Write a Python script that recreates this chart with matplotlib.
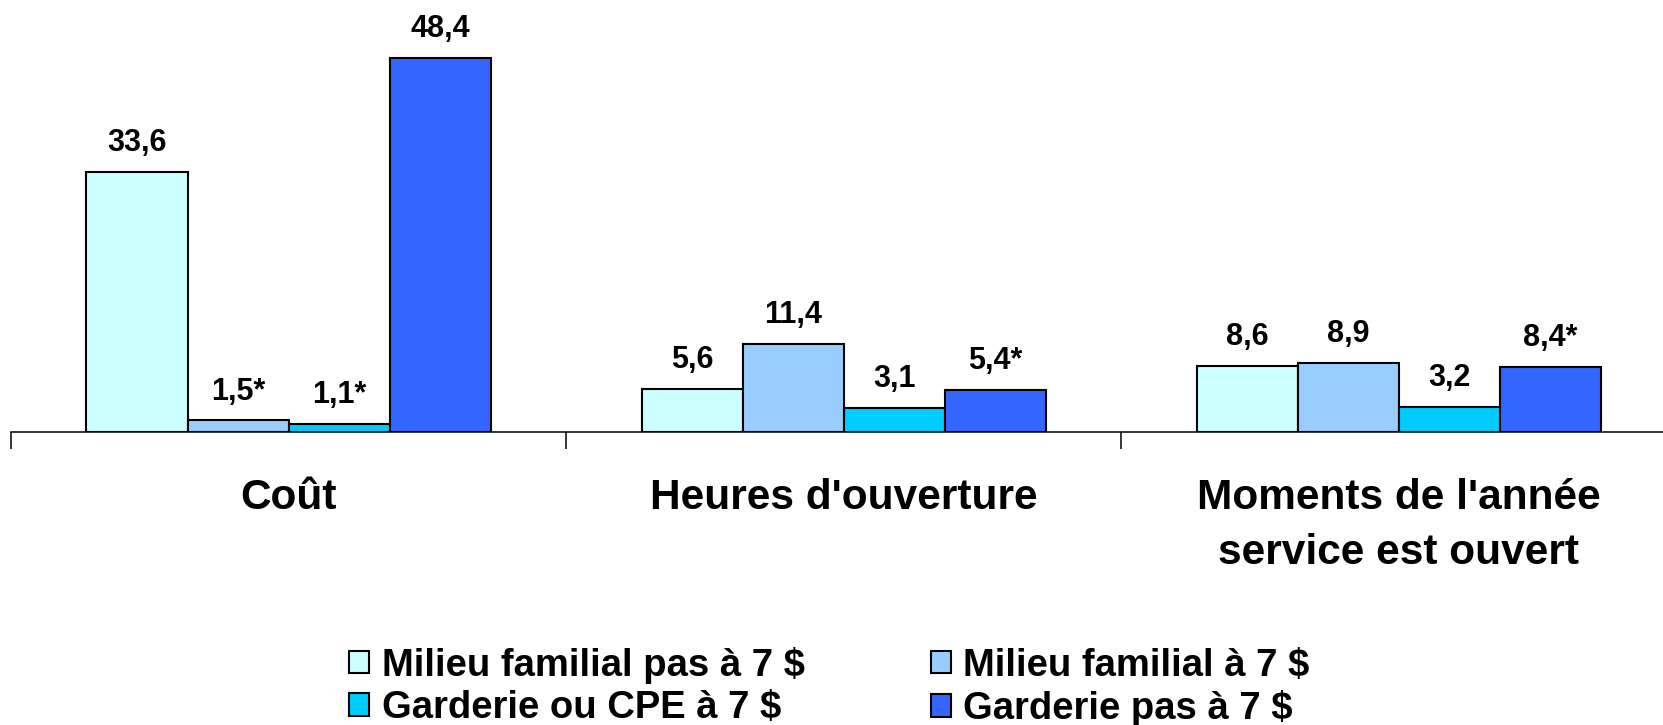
import numpy as np
import matplotlib.pyplot as plt

plt.rcParams['font.family'] = ['Liberation Sans', 'DejaVu Sans']

# categories and series
categories = ["Coût", "Heures d'ouverture", "Moments de l'année\nservice est ouvert"]
series_names = ["Milieu familial pas à 7 $", "Milieu familial à 7 $",
                "Garderie ou CPE à 7 $", "Garderie pas à 7 $"]
familial_pas7 = [33.6, 5.6, 8.6]
familial_7 = [1.5, 11.4, 8.9]
garderie_cpe7 = [1.1, 3.1, 3.2]
garderie_pas7 = [48.4, 5.4, 8.4]
value_labels = [["33,6", "5,6", "8,6"],
                ["1,5*", "11,4", "8,9"],
                ["1,1*", "3,1", "3,2"],
                ["48,4", "5,4*", "8,4*"]]
colors = ['#CCFFFF', '#99CCFF', '#00CCFF', '#3366FF']

fig = plt.figure(figsize=(16.63, 7.25), dpi=100)
ax = fig.add_axes([0.0066, 0.4041, 1.0014, 0.5959])

index = np.arange(len(categories))
bar_width = 0.182
all_series = [familial_pas7, familial_7, garderie_cpe7, garderie_pas7]

handles = []
for i, vals in enumerate(all_series):
    offs = (i - 1.5) * bar_width
    rects = ax.bar(index + offs, vals, bar_width, color=colors[i],
                   edgecolor='black', linewidth=1.5, label=series_names[i])
    handles.append(rects)
    for r, txt in zip(rects, value_labels[i]):
        ax.annotate(txt, (r.get_x() + r.get_width() / 2, r.get_height()),
                    xytext=(0, 10), textcoords='offset points',
                    ha='center', va='bottom', fontsize=22, fontweight='bold')

ax.set_xlim(-0.5, 2.5)
ax.set_ylim(0, 55.9)

for s in ['top', 'right', 'left']:
    ax.spines[s].set_visible(False)
ax.spines['bottom'].set_linewidth(1.1)
ax.set_yticks([])

# group separators as major ticks, category names as minor ticks
ax.set_xticks([-0.5, 0.5, 1.5, 2.5])
ax.set_xticklabels([])
ax.tick_params(axis='x', which='major', length=12, width=1.1, direction='out')
ax.set_xticks(index, minor=True)
ax.set_xticklabels(categories, minor=True, fontsize=30.5, fontweight='bold',
                   linespacing=1.5)
ax.tick_params(axis='x', which='minor', length=0, pad=33)

# legend is filled row by row in the reference
order = [0, 2, 1, 3]
fig.legend([handles[k] for k in order], [series_names[k] for k in order],
           loc='upper left', bbox_to_anchor=(0.21, 0.108), ncol=2,
           frameon=False, prop={'weight': 'bold', 'size': 27.5},
           handlelength=0.53, handleheight=0.53, handletextpad=0.32,
           columnspacing=3.3, labelspacing=0.17, borderpad=0, borderaxespad=0)

fig.savefig('out.png', dpi=100)
